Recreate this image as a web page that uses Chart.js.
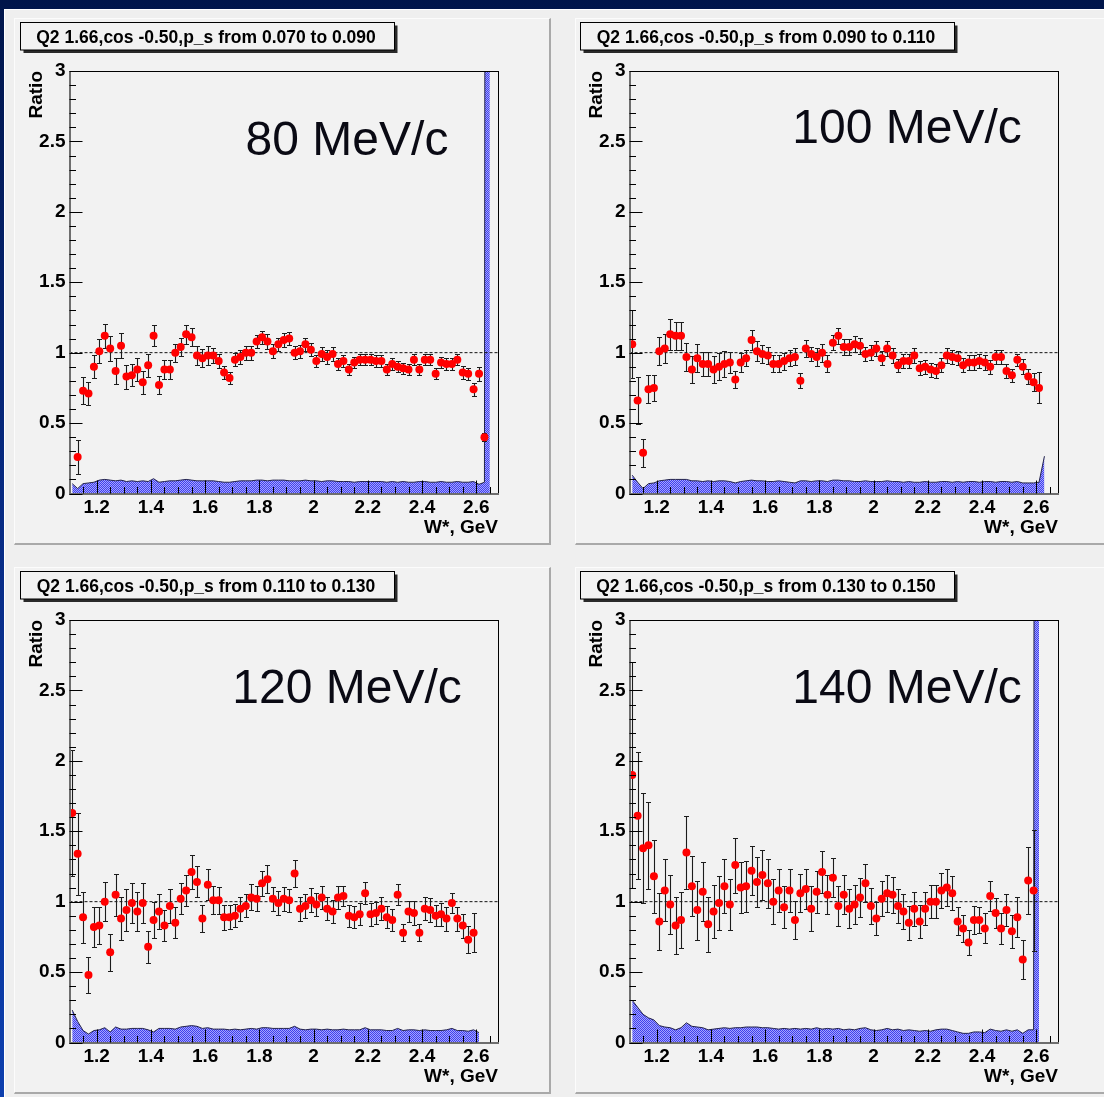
<!DOCTYPE html>
<html>
<head>
<meta charset="utf-8">
<script src="https://cdn.jsdelivr.net/npm/chart.js@4.4.1/dist/chart.umd.min.js"></script>
<style>
  html, body { margin: 0; padding: 0; }
  body {
    width: 1104px; height: 1097px; overflow: hidden; position: relative;
    background: linear-gradient(to bottom, #00154a 0%, #072a82 45%, #0d3fae 100%);
  }
  #rootCanvas {
    position: absolute; left: 4px; top: 9px; right: 0; bottom: 0;
    background: #efefef; border-top: 1px solid #fff; border-left: 1px solid #fff;
  }
  .pad {
    position: absolute; width: 537px; height: 527px; box-sizing: border-box;
    background: #f2f2f2;
    border-top: 1px solid #fcfcfc; border-left: 1px solid #fcfcfc;
    border-right: 2px solid #a9a9a9; border-bottom: 2px solid #a9a9a9;
  }
  .plot { position: absolute; }
</style>
</head>
<body>
<div id="rootCanvas"></div>
<div class="pad" style="left:14px;top:18px"></div>
<div class="pad" style="left:575px;top:18px"></div>
<div class="pad" style="left:14px;top:567px"></div>
<div class="pad" style="left:575px;top:567px"></div>
<canvas class="plot" id="p80" width="538" height="527" style="left:13px;top:18px"></canvas>
<canvas class="plot" id="p100" width="538" height="527" style="left:573px;top:18px"></canvas>
<canvas class="plot" id="p120" width="538" height="527" style="left:13px;top:567px"></canvas>
<canvas class="plot" id="p140" width="538" height="527" style="left:573px;top:567px"></canvas>
<script>
// W* bin centres, GeV
const W = [
  1.11,1.13,1.15,1.17,1.19,1.21,1.23,1.25,1.27,1.29,
  1.31,1.33,1.35,1.37,1.39,1.41,1.43,1.45,1.47,1.49,
  1.51,1.53,1.55,1.57,1.59,1.61,1.63,1.65,1.67,1.69,
  1.71,1.73,1.75,1.77,1.79,1.81,1.83,1.85,1.87,1.89,
  1.91,1.93,1.95,1.97,1.99,2.01,2.03,2.05,2.07,2.09,
  2.11,2.13,2.15,2.17,2.19,2.21,2.23,2.25,2.27,2.29,
  2.31,2.33,2.35,2.37,2.39,2.41,2.43,2.45,2.47,2.49,
  2.51,2.53,2.55,2.57,2.59,2.61,2.63,2.65
];

const X_MIN = 1.10, X_MAX = 2.68;
const Y_MIN = 0, Y_MAX = 3;
const X_TICKS = [1.2, 1.4, 1.6, 1.8, 2, 2.2, 2.4, 2.6];
const Y_TICKS = [0, 0.5, 1, 1.5, 2, 2.5, 3];
const UNITY = 1;

const TITLES = [
  'Q2 1.66,cos -0.50,p_s from 0.070 to 0.090',
  'Q2 1.66,cos -0.50,p_s from 0.090 to 0.110',
  'Q2 1.66,cos -0.50,p_s from 0.110 to 0.130',
  'Q2 1.66,cos -0.50,p_s from 0.130 to 0.150'
];
const MOMENTA = ['80 MeV/c', '100 MeV/c', '120 MeV/c', '140 MeV/c'];

// 80 MeV/c
const RATIO_80 = [null,
  0.26,0.73,0.71,0.90,1.01,1.12,1.03,0.87,1.05,0.83,
  0.84,0.88,0.79,0.91,1.12,0.77,0.88,0.88,1.00,1.04,
  1.13,1.11,0.98,0.96,0.98,0.98,0.94,0.86,0.82,0.95,
  0.97,1.00,1.00,1.08,1.11,1.08,1.01,1.06,1.09,1.10,
  1.00,1.01,1.06,1.02,0.94,0.99,0.97,0.99,0.92,0.94,
  0.88,0.93,0.95,0.95,0.95,0.94,0.94,0.88,0.92,0.90,
  0.89,0.88,0.95,0.88,0.95,0.95,0.85,0.93,0.92,0.92,
  0.95,0.86,0.85,0.74,0.85,0.40, null];
const ERR_80 = [null,
  0.12,0.095,0.085,0.08,0.085,0.085,0.09,0.09,0.09,0.085,
  0.08,0.08,0.08,0.08,0.075,0.065,0.065,0.065,0.065,0.065,
  0.065,0.065,0.07,0.065,0.065,0.055,0.05,0.045,0.045,0.047,
  0.047,0.05,0.05,0.046,0.047,0.052,0.05,0.045,0.047,0.047,
  0.047,0.047,0.045,0.047,0.045,0.047,0.047,0.047,0.045,0.045,
  0.04,0.042,0.04,0.04,0.04,0.04,0.04,0.04,0.04,0.04,
  0.04,0.04,0.04,0.04,0.04,0.04,0.04,0.04,0.04,0.04,
  0.04,0.044,0.044,0.047,0.05,0.03, null];
const BG_80 = [
  0.07,0.035,0.07,0.075,0.08,0.095,0.10,0.095,0.09,0.095,
  0.085,0.09,0.085,0.09,0.085,0.105,0.08,0.085,0.09,0.09,
  0.095,0.10,0.095,0.09,0.09,0.09,0.09,0.085,0.08,0.08,
  0.085,0.09,0.09,0.09,0.095,0.095,0.09,0.095,0.095,0.095,
  0.09,0.09,0.09,0.095,0.09,0.09,0.085,0.09,0.09,0.085,
  0.085,0.085,0.08,0.085,0.085,0.085,0.085,0.085,0.08,0.085,
  0.08,0.085,0.08,0.08,0.085,0.085,0.08,0.08,0.085,0.08,
  0.08,0.085,0.08,0.08,0.085,0.065,0.08,40];

// 100 MeV/c
const RATIO_100 = [
  1.06,0.66,0.29,0.74,0.75,1.01,1.03,1.13,1.12,1.12,
  0.97,0.88,0.96,0.92,0.92,0.88,0.90,0.92,0.93,0.81,
  0.93,0.96,1.09,1.01,0.99,0.98,0.92,0.92,0.94,0.96,
  0.97,0.80,1.03,0.99,0.97,1.00,0.92,1.07,1.12,1.04,
  1.04,1.06,1.05,0.99,1.00,1.03,0.96,1.03,0.98,0.91,
  0.94,0.94,0.98,0.89,0.90,0.88,0.87,0.91,0.98,0.97,
  0.96,0.91,0.93,0.93,0.94,0.93,0.90,0.97,0.97,0.87,
  0.84,0.95,0.90,0.83,0.79,0.75, null,null];
const ERR_100 = [
  0.24,0.17,0.10,0.10,0.09,0.10,0.105,0.11,0.10,0.10,
  0.10,0.098,0.098,0.086,0.086,0.095,0.095,0.095,0.077,0.06,
  0.069,0.057,0.069,0.071,0.065,0.061,0.06,0.06,0.06,0.057,
  0.06,0.053,0.061,0.051,0.066,0.065,0.06,0.053,0.056,0.056,
  0.056,0.057,0.057,0.051,0.053,0.053,0.05,0.051,0.051,0.047,
  0.05,0.05,0.05,0.05,0.05,0.05,0.05,0.05,0.05,0.05,
  0.05,0.05,0.05,0.05,0.05,0.05,0.05,0.05,0.05,0.05,
  0.047,0.044,0.052,0.053,0.065,0.11, null,null];
const BG_100 = [
  0.13,0.08,0.035,0.07,0.075,0.09,0.095,0.10,0.10,0.10,
  0.10,0.09,0.09,0.085,0.09,0.085,0.09,0.09,0.085,0.075,
  0.085,0.09,0.095,0.09,0.09,0.085,0.085,0.09,0.085,0.08,
  0.075,0.09,0.09,0.085,0.09,0.09,0.085,0.095,0.095,0.09,
  0.09,0.085,0.085,0.09,0.085,0.085,0.085,0.09,0.085,0.085,
  0.08,0.085,0.08,0.08,0.085,0.08,0.08,0.085,0.085,0.08,
  0.085,0.08,0.085,0.085,0.08,0.085,0.085,0.08,0.085,0.085,
  0.08,0.085,0.075,0.075,0.075,0.08,0.265,null];

// 120 MeV/c
const RATIO_120 = [
  1.63,1.34,0.89,0.48,0.82,0.83,1.00,0.64,1.05,0.88,
  0.94,0.99,0.93,0.99,0.68,0.87,0.93,0.83,0.97,0.85,
  1.02,1.08,1.21,1.14,0.88,1.12,1.01,1.01,0.89,0.89,
  0.90,0.95,0.97,1.03,1.02,1.13,1.16,1.02,0.99,1.02,
  1.01,1.20,0.95,0.97,1.01,0.98,1.03,0.95,0.93,1.03,
  1.04,0.90,0.89,0.91,1.06,0.91,0.92,0.95,0.89,0.87,
  1.05,0.78,0.93,0.92,0.78,0.95,0.94,0.90,0.91,0.88,
  0.99,0.88,0.83,0.73,0.78, null,null,null];
const ERR_120 = [
  0.45,0.29,0.18,0.13,0.14,0.13,0.14,0.13,0.15,0.15,
  0.15,0.14,0.14,0.14,0.115,0.125,0.125,0.11,0.12,0.11,
  0.11,0.11,0.12,0.11,0.095,0.11,0.10,0.097,0.088,0.085,
  0.082,0.086,0.082,0.092,0.088,0.09,0.098,0.084,0.083,0.085,
  0.083,0.094,0.085,0.083,0.085,0.08,0.083,0.08,0.085,0.083,
  0.073,0.077,0.079,0.079,0.078,0.08,0.08,0.08,0.078,0.078,
  0.073,0.062,0.076,0.087,0.062,0.083,0.083,0.076,0.08,0.085,
  0.073,0.085,0.085,0.094,0.14, null,null,null];
const BG_120 = [
  0.23,0.15,0.085,0.06,0.085,0.09,0.105,0.075,0.11,0.095,
  0.095,0.10,0.10,0.10,0.09,0.075,0.10,0.10,0.10,0.095,
  0.11,0.115,0.12,0.115,0.10,0.105,0.095,0.095,0.095,0.09,
  0.095,0.09,0.095,0.10,0.095,0.105,0.105,0.10,0.10,0.10,
  0.10,0.115,0.095,0.09,0.095,0.095,0.09,0.095,0.09,0.09,
  0.095,0.09,0.09,0.09,0.105,0.09,0.09,0.09,0.085,0.085,
  0.10,0.085,0.09,0.09,0.085,0.09,0.085,0.085,0.085,0.09,
  0.10,0.085,0.085,0.08,0.09,0.07,null,null];

// 140 MeV/c
const RATIO_140 = [
  1.90,1.61,1.38,1.40,1.18,0.86,1.08,0.98,0.83,0.87,
  1.35,1.11,0.94,1.07,0.84,0.93,0.99,1.11,0.98,1.26,
  1.10,1.11,1.22,1.14,1.19,1.13,1.00,1.08,0.96,1.08,
  0.87,1.06,1.09,0.95,1.07,1.21,1.05,1.17,0.97,1.05,
  0.95,0.98,1.03,1.13,0.97,0.88,1.02,1.06,1.05,0.97,
  0.93,0.85,0.95,0.86,0.95,1.00,1.00,1.08,1.10,1.06,
  0.86,0.81,0.71,0.87,0.87,0.81,1.04,0.92,0.81,0.94,
  0.79,0.89,0.59,1.15,1.08, null,null,null];
const ERR_140 = [
  0.80,0.45,0.39,0.31,0.26,0.20,0.22,0.21,0.20,0.20,
  0.26,0.215,0.21,0.21,0.195,0.19,0.19,0.19,0.18,0.195,
  0.18,0.18,0.175,0.18,0.18,0.175,0.16,0.15,0.15,0.15,
  0.135,0.135,0.14,0.16,0.15,0.15,0.14,0.14,0.14,0.14,
  0.14,0.14,0.14,0.135,0.13,0.12,0.125,0.13,0.128,0.123,
  0.125,0.122,0.122,0.118,0.116,0.118,0.115,0.127,0.129,0.12,
  0.10,0.097,0.09,0.10,0.095,0.106,0.104,0.106,0.109,0.113,
  0.118,0.142,0.139,0.24,0.43, null,null,null];
const BG_140 = [
  0.30,0.25,0.20,0.175,0.16,0.12,0.11,0.105,0.09,0.105,
  0.14,0.115,0.11,0.105,0.09,0.095,0.10,0.105,0.10,0.105,
  0.105,0.11,0.11,0.11,0.105,0.105,0.10,0.095,0.10,0.095,
  0.10,0.095,0.10,0.095,0.105,0.095,0.10,0.095,0.10,0.09,
  0.095,0.09,0.10,0.105,0.09,0.085,0.09,0.10,0.09,0.095,
  0.085,0.09,0.085,0.08,0.085,0.08,0.09,0.095,0.095,0.085,
  0.075,0.065,0.065,0.075,0.075,0.07,0.095,0.085,0.08,0.09,
  0.08,0.09,0.065,0.09,0.09,40,null,null];

const FONT = '"Liberation Sans", Arial, Helvetica, sans-serif';

function hatch() {
  const c = document.createElement('canvas');
  c.width = 2; c.height = 2;
  const g = c.getContext('2d');
  g.fillStyle = '#a4a4ff';
  g.fillRect(0, 0, 2, 2);
  g.fillStyle = '#4040ec';
  g.fillRect(0, 0, 1, 1);
  g.fillRect(1, 1, 1, 1);
  return g.createPattern(c, 'repeat');
}

// ROOT-like frame: inward ticks, error bars, title box, momentum label
const rootLook = {
  id: 'rootLook',
  beforeDatasetDraw(chart, args) {
    const ds = chart.data.datasets[args.index];
    if (!ds.withErrors) return;
    const {ctx, chartArea: a, scales: {x, y}} = chart;
    ctx.save();
    ctx.beginPath();
    ctx.rect(a.left, a.top, a.width, a.height);
    ctx.clip();
    ctx.strokeStyle = '#1c1c1c';
    ctx.lineWidth = 1.1;
    ds.data.forEach(p => {
      const px = Math.round(x.getPixelForValue(p.x)) + 0.5;
      const yt = Math.round(y.getPixelForValue(p.y + p.e)) + 0.5;
      const yb = Math.round(y.getPixelForValue(p.y - p.e)) + 0.5;
      ctx.beginPath();
      ctx.moveTo(px, yt); ctx.lineTo(px, yb);
      ctx.moveTo(px - 2.5, yt); ctx.lineTo(px + 2.5, yt);
      ctx.moveTo(px - 2.5, yb); ctx.lineTo(px + 2.5, yb);
      ctx.stroke();
    });
    ctx.restore();
  },
  afterDatasetsDraw(chart) {
    const {ctx, chartArea: a, scales: {x, y}} = chart;
    ctx.save();
    ctx.strokeStyle = '#000';
    ctx.lineWidth = 1;
    ctx.strokeRect(a.left + 0.5, a.top + 0.5, a.width, a.height);
    ctx.strokeStyle = '#6e6e6e';
    ctx.lineWidth = 2;
    ctx.beginPath();
    ctx.moveTo(a.left + 0.5, a.top);
    ctx.lineTo(a.left + 0.5, a.bottom + 0.5);
    ctx.lineTo(a.right + 1, a.bottom + 0.5);
    ctx.stroke();
    ctx.strokeStyle = '#000';
    ctx.lineWidth = 1;
    ctx.beginPath();
    for (let k = 0; k <= 30; k++) {
      const py = Math.round(y.getPixelForValue(k / 10)) + 0.5;
      const len = k % 5 === 0 ? 13 : 6.5;
      ctx.moveTo(a.left, py); ctx.lineTo(a.left + len, py);
    }
    for (let k = 23; k <= 53; k++) {
      const px = Math.round(x.getPixelForValue(k * 0.05)) + 0.5;
      const len = k % 4 === 0 ? 13 : 6.5;
      ctx.moveTo(px, a.bottom); ctx.lineTo(px, a.bottom - len);
    }
    ctx.stroke();
    ctx.restore();
  },
  afterDraw(chart, args, opts) {
    const {ctx} = chart;
    ctx.save();
    // title box with shadow
    ctx.fillStyle = '#2a2a2a';
    ctx.fillRect(10.5, 7.5, 374, 27.5);
    ctx.fillStyle = '#f2f2f2';
    ctx.fillRect(7.5, 4.5, 374, 27.5);
    ctx.strokeStyle = '#000';
    ctx.lineWidth = 1;
    ctx.strokeRect(7.5, 4.5, 374, 27.5);
    ctx.fillStyle = '#000';
    ctx.font = 'bold 17.5px ' + FONT;
    ctx.textAlign = 'center';
    ctx.textBaseline = 'alphabetic';
    ctx.fillText(opts.title, 193, 25);
    // momentum label
    ctx.font = '48px ' + FONT;
    ctx.fillStyle = '#0a0a14';
    ctx.fillText(opts.label, opts.labelX, opts.labelY);
    ctx.restore();
  }
};

function buildPanel(id, title, label, labelY, ratio, err, bg) {
  const pts = [];
  W.forEach((w, i) => { if (ratio[i] !== null) pts.push({x: w, y: ratio[i], e: err[i]}); });
  const bgPts = [];
  W.forEach((w, i) => { if (bg[i] !== null) bgPts.push({x: w, y: bg[i]}); });
  const tickFont = {family: FONT, size: 19, weight: 'bold'};

  new Chart(document.getElementById(id), {
    type: 'scatter',
    data: {
      datasets: [
        {
          type: 'line', data: bgPts, order: 3,
          backgroundColor: hatch(), borderColor: '#23234a', borderWidth: 1,
          fill: 'origin', pointRadius: 0, tension: 0
        },
        {
          type: 'line', data: [{x: X_MIN, y: UNITY}, {x: X_MAX, y: UNITY}], order: 2,
          borderColor: '#111', borderWidth: 1, borderDash: [3, 2], pointRadius: 0, fill: false
        },
        {
          data: pts, order: 1, withErrors: true,
          backgroundColor: '#ff0000', borderColor: '#ff0000', pointRadius: 4, pointBorderWidth: 0
        }
      ]
    },
    options: {
      responsive: false,
      animation: false,
      events: [],
      layout: {padding: {left: 0, top: 53, right: 53, bottom: 0}},
      plugins: {
        legend: {display: false},
        tooltip: {enabled: false},
        rootLook: {title: title, label: label, labelX: 334, labelY: labelY}
      },
      scales: {
        x: {
          type: 'linear', min: X_MIN, max: X_MAX,
          afterFit(s) { s.height = 51.5; },
          afterBuildTicks(s) { s.ticks = X_TICKS.map(v => ({value: v})); },
          grid: {display: false, drawTicks: false},
          border: {display: false},
          ticks: {autoSkip: false, maxRotation: 0, padding: 3, color: '#000', font: tickFont,
                  callback: v => String(v)},
          title: {display: true, text: 'W*, GeV', align: 'end', color: '#000', font: tickFont,
                  padding: {top: 0, bottom: 6}}
        },
        y: {
          type: 'linear', min: Y_MIN, max: Y_MAX,
          afterFit(s) { s.width = 56.5; },
          afterBuildTicks(s) { s.ticks = Y_TICKS.map(v => ({value: v})); },
          grid: {display: false, drawTicks: false},
          border: {display: false},
          ticks: {padding: 4, color: '#000', font: tickFont, callback: v => String(v)},
          title: {display: true, text: 'Ratio', align: 'end', color: '#000', font: tickFont,
                  padding: {top: 12, bottom: 0}}
        }
      }
    },
    plugins: [rootLook]
  });
}

buildPanel('p80', TITLES[0], MOMENTA[0], 137, RATIO_80, ERR_80, BG_80);
buildPanel('p100', TITLES[1], MOMENTA[1], 125, RATIO_100, ERR_100, BG_100);
buildPanel('p120', TITLES[2], MOMENTA[2], 136, RATIO_120, ERR_120, BG_120);
buildPanel('p140', TITLES[3], MOMENTA[3], 136, RATIO_140, ERR_140, BG_140);
</script>
</body>
</html>
